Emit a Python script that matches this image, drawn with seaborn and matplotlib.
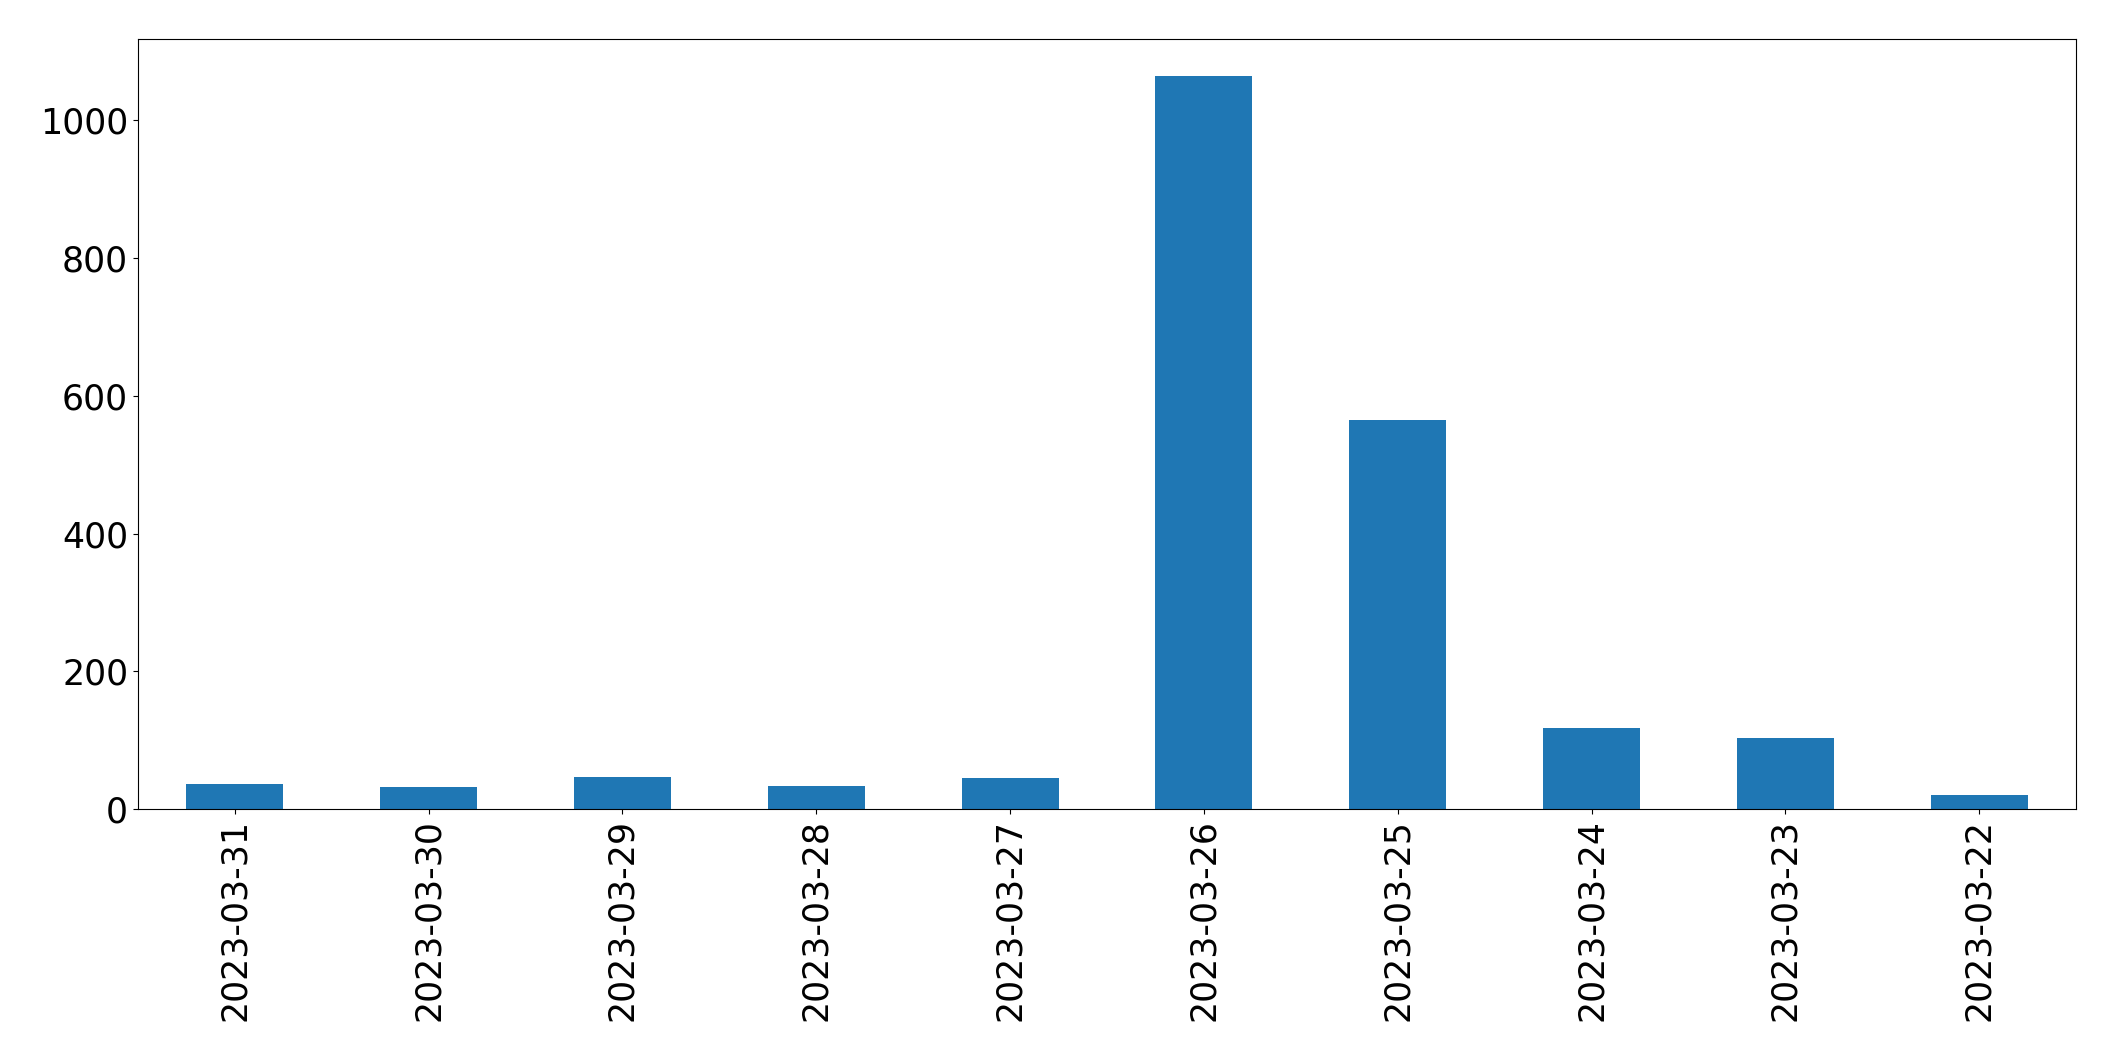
import pandas as pd
import matplotlib
matplotlib.use("Agg")
import matplotlib.pyplot as plt
import seaborn as sns

# values
dates = ["2023-03-31", "2023-03-30", "2023-03-29", "2023-03-28", "2023-03-27",
         "2023-03-26", "2023-03-25", "2023-03-24", "2023-03-23", "2023-03-22"]
counts = [36, 32, 46, 33, 45, 1065, 565, 118, 103, 20]

df = pd.DataFrame({"date": dates, "count": counts})

fig, ax = plt.subplots(figsize=(21.15, 10.61), dpi=100)
sns.barplot(data=df, x="date", y="count", color="#1f77b4", saturation=1,
            width=0.5, ax=ax)

ax.set_xlim(-0.5, len(dates) - 0.5)
ax.set_ylim(0, max(counts) * 1.05)
ax.set_xlabel("")
ax.set_ylabel("")
ax.tick_params(axis="both", labelsize=25)
ax.tick_params(axis="x", rotation=90)

fig.subplots_adjust(left=0.0652, right=0.9816, top=0.9632, bottom=0.2375)
fig.savefig("out.png", dpi=100)
